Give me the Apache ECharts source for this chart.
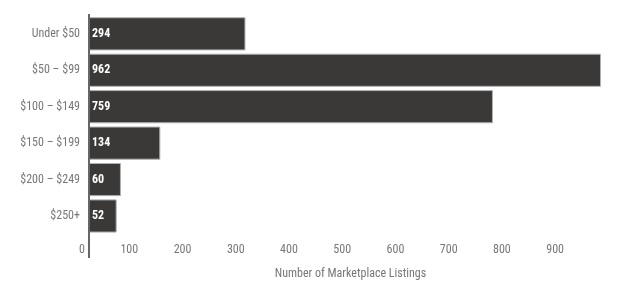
<!DOCTYPE html>
<html><head><meta charset="utf-8">
<script src="https://cdn.jsdelivr.net/npm/echarts@6/dist/echarts.min.js"></script>
<style>html,body{margin:0;padding:0;background:#fff}#c{width:628px;height:291px}</style>
</head><body><div id="c"></div>
<script>
const categories = ['Under $50', '$50 – $99', '$100 – $149', '$150 – $199', '$200 – $249', '$250+'];
const listings = [294, 962, 759, 134, 60, 52];
const axisTitle = 'Number of Marketplace Listings';

const FONT = "'Roboto Condensed','DejaVu Sans Condensed',sans-serif";
const chart = echarts.init(document.getElementById('c'), null, {renderer: 'canvas'});
chart.setOption({
  animation: false,
  backgroundColor: '#fff',
  grid: {left: 89, right: 27, top: 15.6, bottom: 56.8, containLabel: false},
  xAxis: {
    type: 'value', min: 0, max: 'dataMax', interval: 100,
    name: axisTitle, nameLocation: 'middle', nameGap: 34,
    nameTextStyle: {color: '#777', fontSize: 12, fontFamily: FONT, padding: [0, 0, 0, 11]},
    axisLine: {show: false}, axisTick: {show: false}, splitLine: {show: false},
    axisLabel: {showMaxLabel: false, color: '#777', fontSize: 12, fontFamily: FONT,
      align: 'right', padding: [0, 4, 0, 0], margin: 10}
  },
  yAxis: {
    type: 'category', data: categories, inverse: true,
    axisLine: {show: true, lineStyle: {color: '#666', width: 2}},
    axisTick: {show: false},
    axisLabel: {color: '#777', fontSize: 12, fontFamily: FONT, margin: 9}
  },
  series: [{
    type: 'bar', data: listings, barCategoryGap: '9%',
    itemStyle: {color: '#3b3937', borderColor: '#b0b0b0', borderWidth: 1},
    label: {show: true, position: 'insideLeft', distance: 3, color: '#fff',
      fontWeight: 'bold', fontSize: 12, fontFamily: FONT}
  }]
});
const x0 = chart.convertToPixel({xAxisIndex: 0}, 0);
chart.setOption({graphic: [{type: 'line', shape: {x1: x0, y1: 14, x2: x0, y2: 258},
  style: {stroke: '#666', lineWidth: 2}, z: 10}]});
</script></body></html>
